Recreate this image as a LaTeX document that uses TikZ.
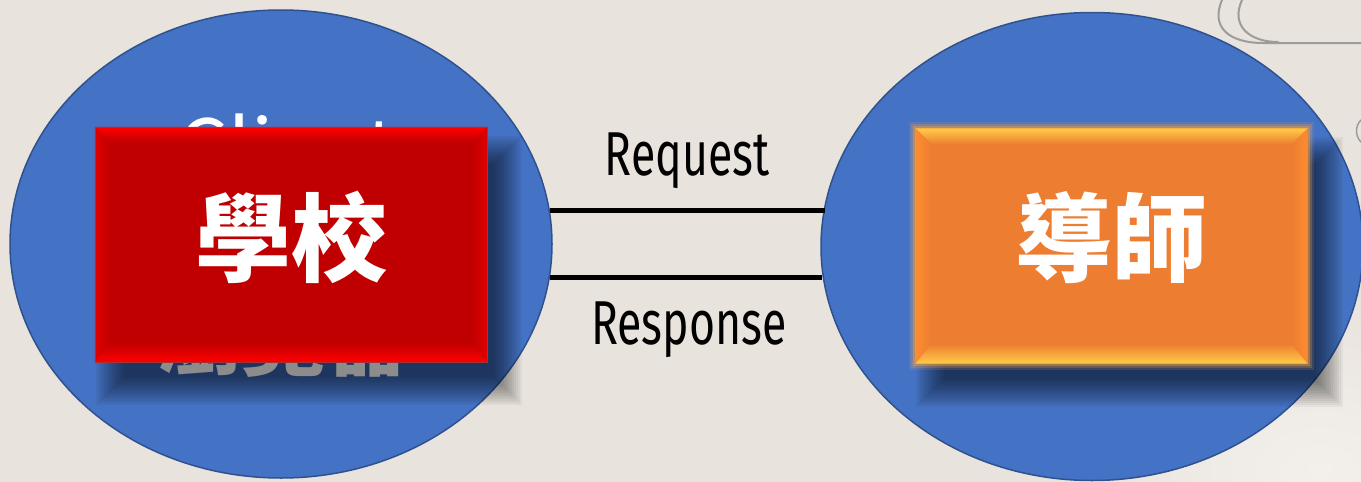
\documentclass[tikz,border=0pt]{standalone}
\usepackage{fontspec}
\newfontfamily\cjk{Noto Sans CJK TC}
\newfontfamily\condfont{Fira Sans}[FakeStretch=0.72]
\usetikzlibrary{shapes.geometric,calc}
\definecolor{paper}{HTML}{E9E3DD}
\definecolor{paperlight}{HTML}{F3F0EC}
\definecolor{bubblefill}{HTML}{4472C4}
\definecolor{bubbleedge}{HTML}{2F528F}
\definecolor{redface}{HTML}{C00000}
\definecolor{redbright}{HTML}{FF0000}
\definecolor{redside}{HTML}{E00000}
\definecolor{orangeface}{HTML}{ED7D31}
\definecolor{orangetop}{HTML}{FFCC48}
\definecolor{orangeside}{HTML}{FF8C30}
\definecolor{glowc}{HTML}{F5A040}
\definecolor{hidgray}{HTML}{8C8C8C}
\definecolor{decogray}{HTML}{9C9C9C}
\newcommand{\platebevel}[5]{%
  \shade[top color=#2, bottom color=#5] (#1.north west) -- (#1.north east) -- ($(#1.north east)+(-16,16)$) -- ($(#1.north west)+(16,16)$) -- cycle;
  \shade[top color=#5, bottom color=#3] (#1.south west) -- (#1.south east) -- ($(#1.south east)+(-16,-20)$) -- ($(#1.south west)+(16,-20)$) -- cycle;
  \shade[left color=#4, right color=#5] (#1.north west) -- ($(#1.north west)+(16,16)$) -- ($(#1.south west)+(16,-20)$) -- (#1.south west) -- cycle;
  \shade[left color=#5, right color=#4] (#1.north east) -- ($(#1.north east)+(-16,16)$) -- ($(#1.south east)+(-16,-20)$) -- (#1.south east) -- cycle;
}
\newcommand{\softshadow}[1]{%
  \foreach \e in {17,15,...,-11}
    \fill[black, opacity=0.042] ($(#1.north west)+(18-\e,26-\e)$) rectangle ($(#1.south east)+(18+\e,26+\e)$);
}
\begin{document}
\begin{tikzpicture}[x=1pt,y=-1pt,
  bubble/.style={ellipse, draw=bubbleedge, line width=1.5pt, fill=bubblefill,
    minimum width=542pt, minimum height=468pt, inner sep=0pt},
  plate/.style={rectangle, minimum width=392pt, minimum height=235pt, inner sep=0pt},
  link/.style={line width=5pt, black},
  lbl/.style={font=\condfont\fontsize{62}{70}\selectfont, text=black, inner sep=0pt, anchor=base},
  title/.style={font=\cjk\bfseries\fontsize{96}{110}\selectfont, text=white, inner sep=0pt},
  deco/.style={draw=decogray, line width=2pt, line cap=round},
]
\useasboundingbox (0,0) rectangle (1361,482);
\fill[paper] (0,0) rectangle (1361,482);
\shade[inner color=paperlight, outer color=paper] (1320,470) ellipse (260 and 170);
\draw[deco] (1222,0) .. controls (1210,28) and (1230,43) .. (1263,43) -- (1361,43);
\draw[deco] (1242,0) .. controls (1230,26) and (1250,42) .. (1278,42);
\draw[deco, line width=1.5pt] (1361,120) .. controls (1355,126) and (1355,136) .. (1361,142);

\node[bubble] (client) at (281,244) {};
\node[bubble] (server) at (1092,246.5) {};

\draw[link] (client.7.66) -- (client.7.66 -| server.171.8);
\draw[link] (client.353.2) -- (client.353.2 -| server.186.26);

\node[lbl] (req) at (687,175) {Request};
\node[lbl] (resp) at (689,344) {Response};

\node[plate] (school) at (291,244.5) {};
\softshadow{school}
\node[font=\cjk\fontsize{80}{90}\selectfont, text=white, anchor=base, inner sep=0pt] (cname) at (287,177) {Client};
\node[font=\cjk\bfseries\fontsize{84}{90}\selectfont, text=hidgray, anchor=base, inner sep=0pt] (bname) at (283,369) {瀏覽器};
\fill[redface] (school.north west) rectangle (school.south east);
\platebevel{school}{redbright}{redbright}{redside}{redface}
\draw[redface!60!gray, line width=0.6pt] (school.north west) rectangle (school.south east);
\node[title] (schooltxt) at (291,237) {學校};

\node[plate] (tutor) at (1111.5,246) {};
\softshadow{tutor}
\foreach \d/\o in {1.2/0.6, 3/0.35, 5/0.15}
  \draw[glowc, line width=2pt, opacity=\o] ($(tutor.north west)+(-\d,-\d)$) rectangle ($(tutor.south east)+(\d,\d)$);
\fill[orangeface] (tutor.north west) rectangle (tutor.south east);
\platebevel{tutor}{orangetop}{orangetop}{orangeside}{orangeface}
\node[title] (tutortxt) at (1111,238) {導師};
\end{tikzpicture}
\end{document}
